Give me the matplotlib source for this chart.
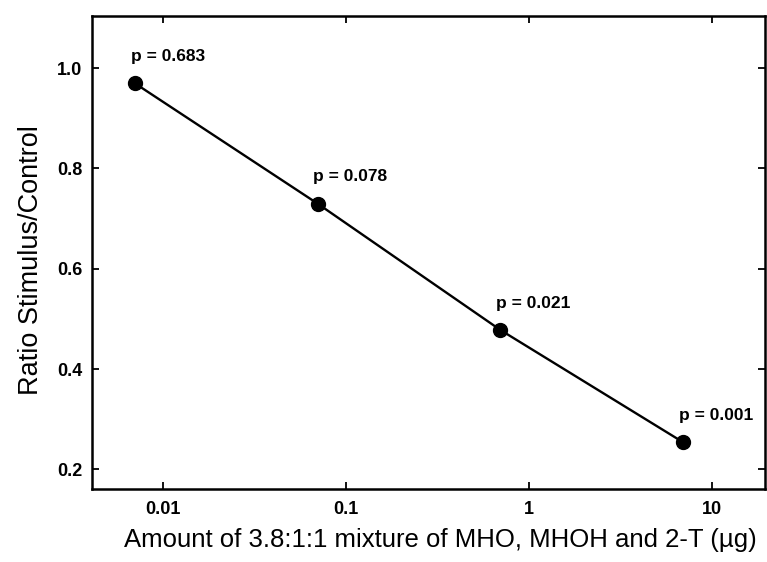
import matplotlib
matplotlib.use("Agg")
import matplotlib.pyplot as plt
from matplotlib.ticker import FixedLocator, FixedFormatter, NullLocator

plt.rcParams['font.family'] = ['Liberation Sans', 'DejaVu Sans']

amounts = [0.007, 0.07, 0.7, 7]
ratios = [0.97, 0.73, 0.478, 0.254]
p_labels = ["p = 0.683", "p = 0.078", "p = 0.021", "p = 0.001"]
xticks = [0.01, 0.1, 1, 10]
xticklabels = ["0.01", "0.1", "1", "10"]
yticks = [0.2, 0.4, 0.6, 0.8, 1.0]
yticklabels = ["0.2", "0.4", "0.6", "0.8", "1.0"]

fig = plt.figure(figsize=(7.67, 5.62), dpi=100)
ax = fig.add_axes([0.1203, 0.1299, 0.8771, 0.8416])

ax.plot(amounts, ratios, color='black', lw=1.7, marker='o', markersize=10,
        markerfacecolor='black', markeredgecolor='black')
ax.set_xscale('log')
ax.set_xlim(0.0041, 19.6)
ax.set_ylim(0.161, 1.104)

ax.xaxis.set_major_locator(FixedLocator(xticks))
ax.xaxis.set_major_formatter(FixedFormatter(xticklabels))
ax.xaxis.set_minor_locator(NullLocator())
ax.set_yticks(yticks)
ax.set_yticklabels(yticklabels)

ax.tick_params(axis='both', which='major', direction='in', length=5, width=1.3,
               top=True, right=True, labelsize=13)
ax.tick_params(axis='x', pad=9)
ax.tick_params(axis='y', pad=7)
for lab in ax.get_xticklabels() + ax.get_yticklabels():
    lab.set_fontweight('bold')

for s in ax.spines.values():
    s.set_linewidth(1.8)

for x, y, t in zip(amounts, ratios, p_labels):
    ax.annotate(t, (x, y), xytext=(-3, 14), textcoords='offset points',
                ha='left', va='bottom', fontsize=12.5, fontweight='bold')

ax.set_ylabel("Ratio Stimulus/Control", fontsize=19.5, va='center')
ax.yaxis.set_label_coords(-0.091, 0.484)
ax.set_xlabel("Amount of 3.8:1:1 mixture of MHO, MHOH and 2-T (µg)", fontsize=18.5, va='center')
ax.xaxis.set_label_coords(0.517, -0.108)

fig.savefig("out.png", dpi=100)
